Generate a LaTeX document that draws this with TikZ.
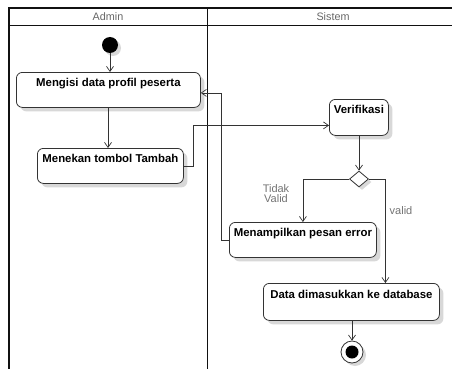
\documentclass[tikz,border=0pt]{standalone}
\usepackage{fontspec}
\setmainfont{Liberation Sans}
\usetikzlibrary{arrows.meta,shapes.geometric,shadows,calc}
\definecolor{ink}{HTML}{333333}
\definecolor{lane}{HTML}{111111}
\definecolor{shade}{HTML}{D8D8D8}
\tikzset{
  actbox/.style={draw=ink, line width=0.8pt, fill=white, rounded corners=6pt,
    anchor=north west, inner sep=0pt, font=\bfseries\fontsize{11.4}{13}\selectfont,
    text height=8pt, text depth=15pt,
    drop shadow={shadow xshift=4pt, shadow yshift=-4pt, fill=shade, opacity=1}},
  flow/.style={draw=ink, line width=0.7pt, -{Straight Barb[length=5pt,width=7pt,line width=0.7pt]}},
  lanehead/.style={font=\fontsize{10.8}{12}\selectfont, text=gray!80!black},
  guard/.style={font=\fontsize{11}{12}\selectfont, text=gray!90!black, align=center},
  laneline/.style={draw=lane, line width=1.4pt}
}
\begin{document}
\begin{tikzpicture}[x=1pt, y=-1pt]
\useasboundingbox (0,0) rectangle (452,369);
% swimlane frame
\draw[laneline] (9,369) -- (9,8) -- (452,8);
\draw[laneline] (207.5,8) -- (207.5,369);
\draw[draw=lane, line width=1pt] (9,26) -- (452,26);
\node[lanehead] (hadmin) at (108,17) {Admin};
\node[lanehead] (hsys) at (333,17) {Sistem};

% activities
\node[circle, fill=black, minimum size=16pt, inner sep=0pt,
  drop shadow={shadow xshift=3pt, shadow yshift=-3pt, fill=shade, opacity=1}] (start) at (110,45) {};
\node[actbox, minimum width=184pt, minimum height=35pt] (mengisi) at (16,72) {Mengisi data profil peserta};
\node[actbox, minimum width=146pt, minimum height=35pt] (menekan) at (37,148) {Menekan tombol Tambah};
\node[actbox, minimum width=59pt, minimum height=36pt] (verif) at (329,99) {Verifikasi};
\node[diamond, draw=ink, line width=0.8pt, fill=white, minimum width=19pt, minimum height=16pt, inner sep=0pt,
  drop shadow={shadow xshift=3pt, shadow yshift=-3pt, fill=shade, opacity=1}] (dec) at (359,179) {};
\node[actbox, minimum width=147pt, minimum height=35pt] (menamp) at (229,222) {Menampilkan pesan error};
\node[actbox, minimum width=176pt, minimum height=37pt] (data) at (263,283) {Data dimasukkan ke database};
\node[circle, draw=ink, line width=0.8pt, fill=white, minimum size=22pt, inner sep=0pt,
  drop shadow={shadow xshift=3pt, shadow yshift=-3pt, fill=shade, opacity=1}] (final) at (352,352) {};
\node[circle, fill=black, minimum size=13pt, inner sep=0pt] (finaldot) at (final.center) {};

% control flow
\draw[flow] (start) -- (mengisi.north -| start);
\draw[flow] (mengisi.south -| 108,0) -- (menekan.north -| 108,0);
\draw[flow] (menekan.east) -- ++(10,0) |- ([yshift=-8pt]verif.west);
\draw[flow] (verif.south -| dec.north) -- (dec.north);
\draw[flow] (dec.west) -| (menamp.north);
\draw[flow] (dec.east) -| ([xshift=34pt]data.north);
\draw[flow] (menamp.west) -- ++(-8,0) |- ([yshift=-3pt]mengisi.east);
\draw[flow] (data.south -| final.north) -- (final.north);

% guards
\node[guard] (gtidak) at (276,194) {Tidak\\[-2pt]Valid};
\node[guard] (gvalid) at (401,211) {valid};
\end{tikzpicture}
\end{document}
